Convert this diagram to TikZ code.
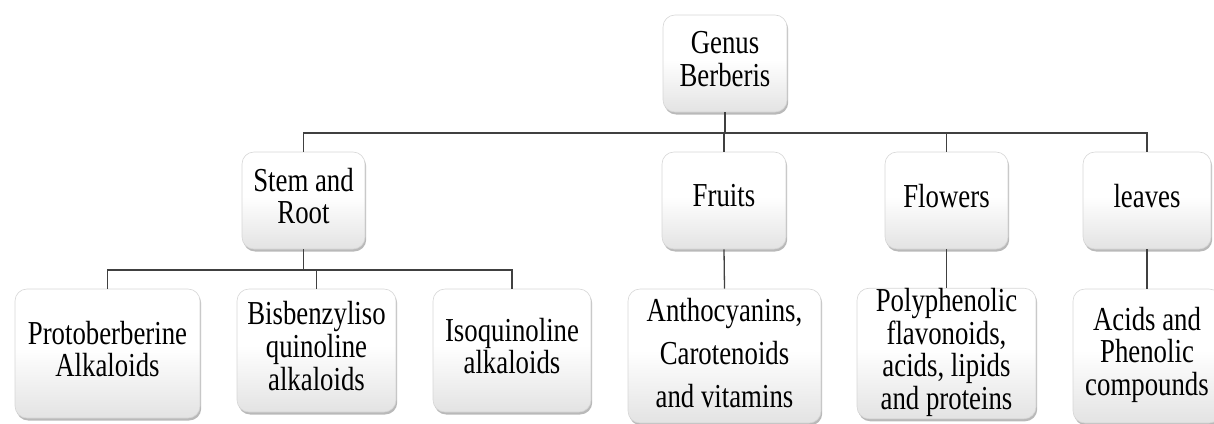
\documentclass[tikz,border=0pt]{standalone}
\usepackage{fontspec}
\setmainfont{Liberation Serif}
\usetikzlibrary{shadows}
\pgfdeclareverticalshading{boxshade}{100bp}{color(0bp)=(black!11); color(25bp)=(black!11); color(52bp)=(white); color(100bp)=(white)}
\newcommand{\boxtxt}[2][1]{\scalebox{1}[1.25]{\def\arraystretch{#1}\begin{tabular}{@{}c@{}}#2\end{tabular}}}
\begin{document}
\begin{tikzpicture}[x=1pt,y=-1pt,
  box/.style={draw=black!16, line width=0.6pt, rounded corners=12pt, shading=boxshade,
    drop shadow={shadow xshift=1.2pt, shadow yshift=-2.5pt, fill=black!50, opacity=0.55},
    inner sep=0pt, align=center, font=\fontsize{26.8}{24.8}\selectfont},
  conn/.style={draw=black!75, line width=1.3pt}]
\useasboundingbox (0,0) rectangle (1214,423);
% level 0
\node[box, minimum width=124pt, minimum height=97pt] (genus) at (725,63.5) {\boxtxt{Genus\\Berberis}};
% level 1
\node[box, minimum width=123pt, minimum height=97pt] (stem) at (303.5,200.5) {\boxtxt{Stem and\\Root}};
\node[box, minimum width=124pt, minimum height=97pt] (fruits) at (724,200.5) {\boxtxt{Fruits}};
\node[box, minimum width=123pt, minimum height=97pt] (flowers) at (946.5,200.5) {\boxtxt{Flowers}};
\node[box, minimum width=128pt, minimum height=97pt] (leaves) at (1147,200.5) {\boxtxt{leaves}};
% level 2
\node[box, minimum width=185pt, minimum height=129pt] (proto) at (107.5,353.5) {\boxtxt{Protoberberine\\Alkaloids}};
\node[box, minimum width=159pt, minimum height=123pt] (bis) at (316.5,350.5) {\boxtxt{Bisbenzyliso\\quinoline\\alkaloids}};
\node[box, minimum width=158pt, minimum height=123pt] (iso) at (512,350.5) {\boxtxt{Isoquinoline\\alkaloids}};
\node[box, minimum width=193pt, minimum height=134pt] (antho) at (724.5,356) {\boxtxt[1.39]{Anthocyanins,\\Carotenoids\\and vitamins}};
\node[box, minimum width=179pt, minimum height=129pt] (poly) at (946.5,353.5) {\boxtxt{Polyphenolic\\flavonoids,\\acids, lipids\\and proteins}};
\node[box, minimum width=148pt, minimum height=134pt] (acids) at (1147,356) {\boxtxt{Acids and\\Phenolic\\compounds}};
% junctions
\coordinate (j1) at (725,133);
\coordinate (j2) at (303.5,270);
% connectors
\draw[conn] (genus.south) -- (j1);
\draw[conn] (stem.north) |- (j1) -| (leaves.north);
\draw[conn] (j1 -| fruits.north) -- (fruits.north);
\draw[conn] (j1 -| flowers.north) -- (flowers.north);
\draw[conn] (stem.south) -- (j2);
\draw[conn] (proto.north) |- (j2) -| (iso.north);
\draw[conn] (j2 -| bis.north) -- (bis.north);
\draw[conn] (fruits.south) -- (antho.north);
\draw[conn] (flowers.south) -- (poly.north);
\draw[conn] (leaves.south) -- (acids.north);
\end{tikzpicture}
\end{document}
